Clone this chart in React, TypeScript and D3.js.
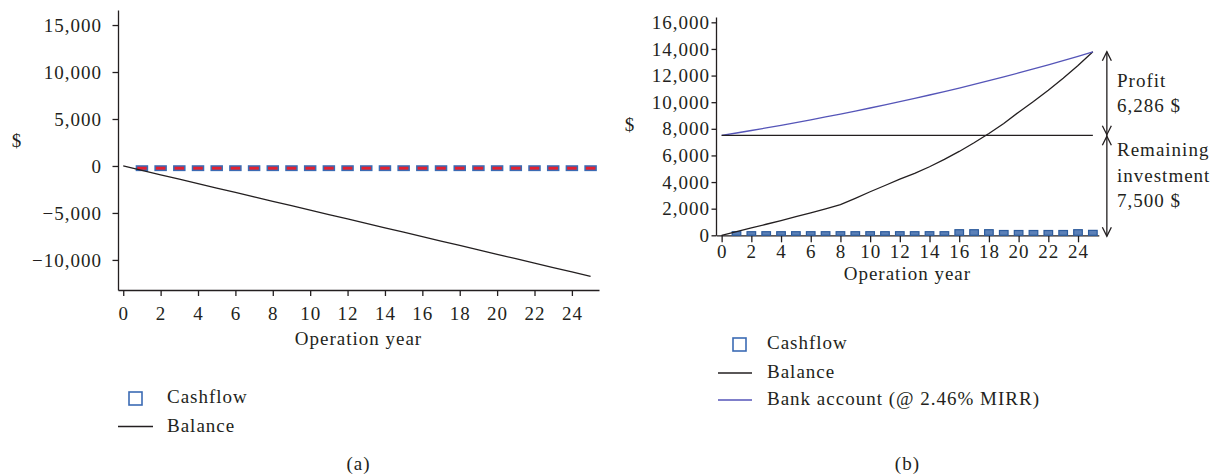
import { useEffect, useRef } from "react";
import * as d3 from "d3";

const FONT = "'Liberation Serif', 'Times New Roman', serif";
const INK = "#231f20";
const BAR_BLUE = "#3b6bb4";
const FS = 19;
const LS = 1.0;

// operation years 0..25
const years = [0, 1, 2, 3, 4, 5, 6, 7, 8, 9, 10, 11, 12, 13, 14, 15, 16, 17, 18, 19, 20, 21, 22, 23, 24, 25];
const barYears = years.slice(1);

// (a) without savings
const cashflowA = [
  -470, -470, -470, -470, -470, -470, -470, -470, -470, -470, -470, -470, -470,
  -470, -470, -470, -470, -470, -470, -470, -470, -470, -470, -470, -470,
];
const balanceA = [
  0, -470, -940, -1410, -1880, -2350, -2820, -3290, -3760, -4230, -4700, -5170, -5640,
  -6110, -6580, -7050, -7520, -7990, -8460, -8930, -9400, -9870, -10340, -10810, -11280, -11750,
];

// (b) with PV system
const cashflowB = [
  270, 270, 270, 270, 270, 270, 270, 270, 270, 270, 270, 270, 270, 270, 270,
  420, 420, 420, 360, 360, 360, 360, 360, 420, 370,
];
const balanceB = [
  0, 270, 550, 830, 1110, 1400, 1690, 1990, 2300, 2780, 3270, 3740, 4220,
  4650, 5150, 5700, 6300, 6950, 7650, 8400, 9250, 10050, 10900, 11800, 12750, 13786,
];
const bankB = [
  7500, 7685, 7874, 8067, 8266, 8469, 8677, 8891, 9110, 9334, 9563, 9798, 10039,
  10286, 10540, 10799, 11065, 11337, 11616, 11902, 12194, 12494, 12802, 13117, 13440, 13786,
];
const investment = 7500;

const xTicks = [0, 2, 4, 6, 8, 10, 12, 14, 16, 18, 20, 22, 24];
const yTicksA = [-10000, -5000, 0, 5000, 10000, 15000];
const yTicksB = [0, 2000, 4000, 6000, 8000, 10000, 12000, 14000, 16000];

const styleAxis = (g: any) => {
  g.attr("font-family", FONT).attr("font-size", FS);
  g.select(".domain").attr("stroke", INK).attr("stroke-width", 1.3);
  g.selectAll(".tick line").attr("stroke", INK).attr("stroke-width", 1.3);
  g.selectAll(".tick text").attr("fill", INK).attr("letter-spacing", LS);
};

const addText = (svg: any, x: number, y: number, str: string, anchor = "start") =>
  svg
    .append("text")
    .attr("x", x)
    .attr("y", y)
    .attr("text-anchor", anchor)
    .attr("font-size", FS)
    .attr("letter-spacing", LS)
    .attr("fill", INK)
    .text(str);

export default function App() {
  const ref = useRef<SVGSVGElement>(null);

  useEffect(() => {
    if (!ref.current) return;
    const svg = d3.select(ref.current);
    svg.selectAll("*").remove();
    svg.attr("font-family", FONT);
    const fmt = d3.format(",");

    // ---------- panel (a) ----------
    const xA = d3.scaleLinear().domain([-0.28, 25.45]).range([118, 599]);
    const yA = d3.scaleLinear().domain([-13200, 16600]).range([290, 10]);

    svg
      .append("g")
      .attr("transform", "translate(118,0)")
      .call(d3.axisLeft(yA).tickValues(yTicksA).tickFormat(fmt as any).tickSize(5.5).tickPadding(10.5).tickSizeOuter(0))
      .call(styleAxis);
    svg
      .append("g")
      .attr("transform", "translate(0,290)")
      .call(d3.axisBottom(xA).tickValues(xTicks).tickSize(6).tickPadding(10.5).tickSizeOuter(0))
      .call(styleAxis);

    svg
      .append("g")
      .selectAll("rect")
      .data(barYears)
      .join("rect")
      .attr("x", (d) => xA(d) - 5.5)
      .attr("width", 11)
      .attr("y", (d, i) => Math.min(yA(0), yA(cashflowA[i])))
      .attr("height", (d, i) => Math.abs(yA(cashflowA[i]) - yA(0)))
      .attr("fill", "#e4202e")
      .attr("stroke", BAR_BLUE)
      .attr("stroke-width", 1.5);

    const lineA = d3
      .line<number>()
      .x((d, i) => xA(years[i]))
      .y((d) => yA(d));
    svg.append("path").attr("d", lineA(balanceA)).attr("fill", "none").attr("stroke", INK).attr("stroke-width", 1.3);

    addText(svg, 17, 147, "$", "middle");
    addText(svg, (xA.range()[0] + xA.range()[1]) / 2, 345, "Operation year", "middle");

    // legend (a)
    svg.append("rect").attr("x", 129).attr("y", 392).attr("width", 13).attr("height", 13)
      .attr("fill", "#fff").attr("stroke", BAR_BLUE).attr("stroke-width", 1.6);
    addText(svg, 167, 403, "Cashflow");
    svg.append("line").attr("x1", 118).attr("x2", 153).attr("y1", 426.5).attr("y2", 426.5)
      .attr("stroke", INK).attr("stroke-width", 1.3);
    addText(svg, 167, 432, "Balance");
    addText(svg, (xA.range()[0] + xA.range()[1]) / 2, 470, "(a)", "middle");

    // ---------- panel (b) ----------
    const xB = d3.scaleLinear().domain([-0.38, 25.4]).range([716, 1098.8]);
    const yB = d3.scaleLinear().domain([0, 16400]).range([235.3, 17]);

    svg
      .append("g")
      .attr("transform", "translate(716,0)")
      .call(d3.axisLeft(yB).tickValues(yTicksB).tickFormat(fmt as any).tickSize(4.5).tickPadding(1.5).tickSizeOuter(0))
      .call(styleAxis);
    svg
      .append("g")
      .attr("transform", "translate(0,235.3)")
      .call(d3.axisBottom(xB).tickValues(xTicks).tickSize(7).tickPadding(2).tickSizeOuter(0))
      .call(styleAxis);

    svg
      .append("g")
      .selectAll("rect")
      .data(barYears)
      .join("rect")
      .attr("x", (d) => xB(d) - 4.3)
      .attr("width", 8.6)
      .attr("y", (d, i) => yB(cashflowB[i]))
      .attr("height", (d, i) => yB(0) - yB(cashflowB[i]))
      .attr("fill", "#5b80b8")
      .attr("stroke", "#2c5b9c")
      .attr("stroke-width", 1.2);

    const lineB = d3
      .line<number>()
      .x((d, i) => xB(years[i]))
      .y((d) => yB(d));
    svg.append("path").attr("d", lineB(balanceB)).attr("fill", "none").attr("stroke", INK).attr("stroke-width", 1.3);
    svg.append("path").attr("d", lineB(bankB)).attr("fill", "none").attr("stroke", "#5555b8").attr("stroke-width", 1.3);
    svg
      .append("line")
      .attr("x1", xB(years[0]))
      .attr("x2", xB(years[years.length - 1]))
      .attr("y1", yB(investment))
      .attr("y2", yB(investment))
      .attr("stroke", INK)
      .attr("stroke-width", 1.3);

    // dimension arrows
    const ax = xB(years[years.length - 1]) + 14;
    const top = yB(bankB[bankB.length - 1]);
    const mid = yB(investment);
    const bot = yB(0);
    const arrows = svg.append("g").attr("stroke", INK).attr("stroke-width", 1.3).attr("fill", "none");
    arrows.append("line").attr("x1", ax).attr("x2", ax).attr("y1", top).attr("y2", bot + 1);
    const chevron = (y: number, dir: number) =>
      arrows.append("path").attr("d", `M${ax - 4.5},${y + dir * 9}L${ax},${y}L${ax + 4.5},${y + dir * 9}`);
    chevron(top, 1);
    chevron(mid - 0.8, -1);
    chevron(mid + 0.8, 1);
    chevron(bot + 1, -1);

    addText(svg, 1117, 87, "Profit");
    addText(svg, 1117, 111.5, "6,286 $");
    addText(svg, 1117, 155.5, "Remaining");
    addText(svg, 1117, 181.5, "investment");
    addText(svg, 1117, 207, "7,500 $");

    addText(svg, 630, 131, "$", "middle");
    addText(svg, (xB.range()[0] + xB.range()[1]) / 2, 280, "Operation year", "middle");

    // legend (b)
    svg.append("rect").attr("x", 733).attr("y", 338).attr("width", 13).attr("height", 13)
      .attr("fill", "#fff").attr("stroke", BAR_BLUE).attr("stroke-width", 1.6);
    addText(svg, 767, 349, "Cashflow");
    svg.append("line").attr("x1", 718).attr("x2", 752).attr("y1", 373).attr("y2", 373)
      .attr("stroke", INK).attr("stroke-width", 1.3);
    addText(svg, 767, 378, "Balance");
    svg.append("line").attr("x1", 718).attr("x2", 752).attr("y1", 400).attr("y2", 400)
      .attr("stroke", "#5555b8").attr("stroke-width", 1.3);
    addText(svg, 767, 405, "Bank account (@ 2.46% MIRR)");
    addText(svg, (xB.range()[0] + xB.range()[1]) / 2, 470, "(b)", "middle");
  }, []);

  return (
    <svg
      ref={ref}
      width={1220}
      height={475}
      style={{ position: "absolute", left: 0, top: 0, background: "#fff" }}
    />
  );
}
